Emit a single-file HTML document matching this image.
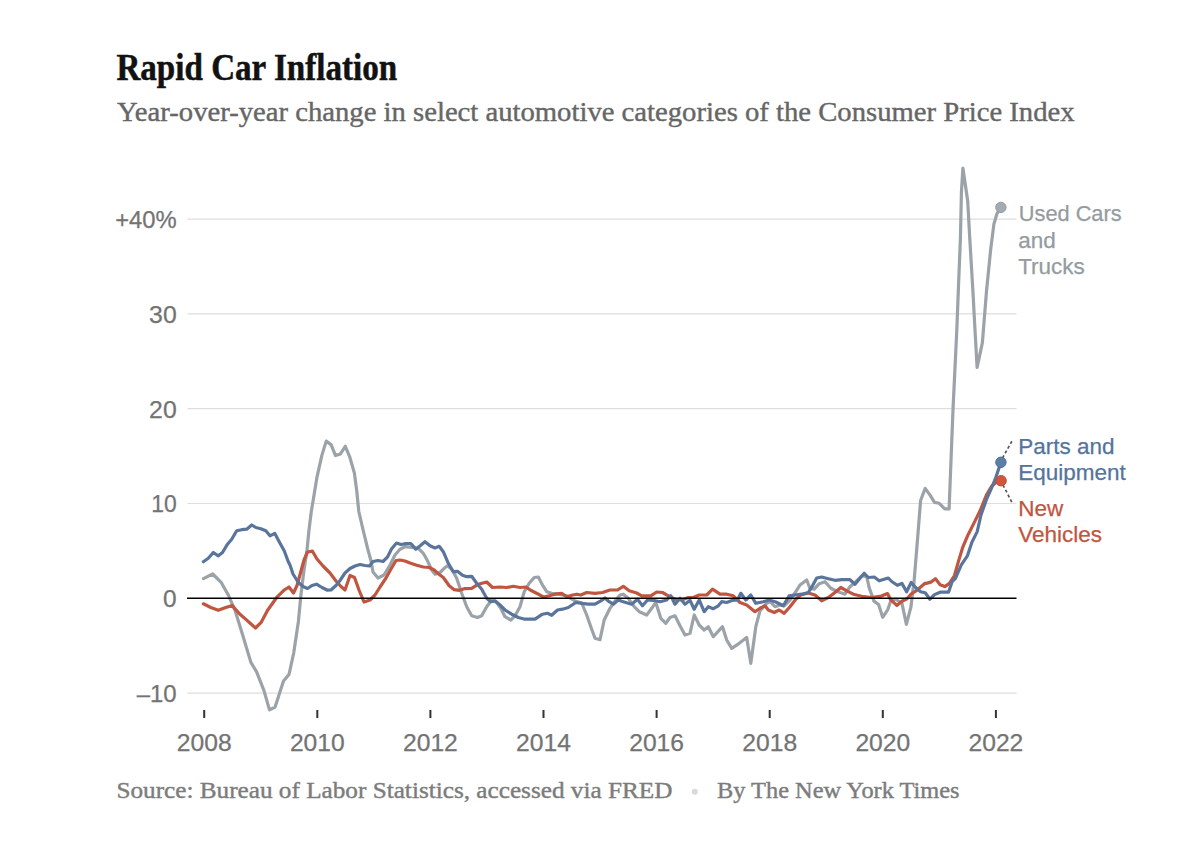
<!DOCTYPE html>
<html><head><meta charset="utf-8"><style>
html,body{margin:0;padding:0;background:#fff;}
body{width:1200px;height:859px;overflow:hidden;position:relative;}
svg{position:absolute;left:0;top:0;}
</style></head><body>
<svg width="1200" height="859" viewBox="0 0 1200 859">
<text x="116.4" y="80.3" font-family="'Liberation Serif', serif" font-weight="bold" font-size="37" fill="#121212" stroke="#121212" stroke-width="0.5" textLength="280.8" lengthAdjust="spacingAndGlyphs">Rapid Car Inflation</text>
<text x="117" y="120.8" font-family="'Liberation Serif', serif" font-size="27.5" fill="#666666" stroke="#666666" stroke-width="0.4" textLength="957.6" lengthAdjust="spacingAndGlyphs">Year-over-year change in select automotive categories of the Consumer Price Index</text>
<line x1="187.5" x2="1016.5" y1="219.1" y2="219.1" stroke="#dedede" stroke-width="1.2"/>
<line x1="187.5" x2="1016.5" y1="313.9" y2="313.9" stroke="#dedede" stroke-width="1.2"/>
<line x1="187.5" x2="1016.5" y1="408.7" y2="408.7" stroke="#dedede" stroke-width="1.2"/>
<line x1="187.5" x2="1016.5" y1="503.5" y2="503.5" stroke="#dedede" stroke-width="1.2"/>
<line x1="187.5" x2="1016.5" y1="693.1" y2="693.1" stroke="#dedede" stroke-width="1.2"/>

<g font-family="'Liberation Sans', sans-serif" font-size="23" fill="#737373" stroke="#737373" stroke-width="0.25">
<text x="176.7" y="228.0" text-anchor="end" textLength="61.5" lengthAdjust="spacingAndGlyphs">+40%</text>
<text x="176.7" y="322.8" text-anchor="end" textLength="27.6" lengthAdjust="spacingAndGlyphs">30</text>
<text x="176.7" y="417.6" text-anchor="end" textLength="27.6" lengthAdjust="spacingAndGlyphs">20</text>
<text x="176.7" y="512.4" text-anchor="end" textLength="25.5" lengthAdjust="spacingAndGlyphs">10</text>
<text x="176.7" y="607.2" text-anchor="end" textLength="13.6" lengthAdjust="spacingAndGlyphs">0</text>
<text x="176.7" y="702.0" text-anchor="end" textLength="40" lengthAdjust="spacingAndGlyphs">–10</text>

<text x="204.2" y="750.5" text-anchor="middle" textLength="54.8" lengthAdjust="spacingAndGlyphs">2008</text>
<text x="317.3" y="750.5" text-anchor="middle" textLength="54.8" lengthAdjust="spacingAndGlyphs">2010</text>
<text x="430.4" y="750.5" text-anchor="middle" textLength="54.8" lengthAdjust="spacingAndGlyphs">2012</text>
<text x="543.5" y="750.5" text-anchor="middle" textLength="54.8" lengthAdjust="spacingAndGlyphs">2014</text>
<text x="656.6" y="750.5" text-anchor="middle" textLength="54.8" lengthAdjust="spacingAndGlyphs">2016</text>
<text x="769.7" y="750.5" text-anchor="middle" textLength="54.8" lengthAdjust="spacingAndGlyphs">2018</text>
<text x="882.8" y="750.5" text-anchor="middle" textLength="54.8" lengthAdjust="spacingAndGlyphs">2020</text>
<text x="995.9" y="750.5" text-anchor="middle" textLength="54.8" lengthAdjust="spacingAndGlyphs">2022</text>

</g>
<rect x="203.2" y="710" width="2" height="8" fill="#333"/>
<rect x="316.3" y="710" width="2" height="8" fill="#333"/>
<rect x="429.4" y="710" width="2" height="8" fill="#333"/>
<rect x="542.5" y="710" width="2" height="8" fill="#333"/>
<rect x="655.6" y="710" width="2" height="8" fill="#333"/>
<rect x="768.7" y="710" width="2" height="8" fill="#333"/>
<rect x="881.8" y="710" width="2" height="8" fill="#333"/>
<rect x="994.9" y="710" width="2" height="8" fill="#333"/>

<g fill="none" stroke-width="3.2" stroke-linejoin="round" stroke-linecap="round">
<polyline points="203.4,578.6 212.7,574 221.1,582.3 228.5,595.4 235,610.3 242.5,634.5 250.9,662.4 256.5,671.7 263.9,690.4 269.5,709.9 275.1,707.1 283.5,681 289,674.5 293.7,653.1 298.4,621.5 301,594 304,570 307,550 309,530 311.3,511.5 314.2,494 317.1,476.6 321.8,455.6 326.2,441.1 331.1,444.6 335.5,455.6 340.4,453.9 345.3,446.3 349.7,456.8 354.4,473.1 356.7,490.5 358.8,511.5 363.1,530 367.5,548 371,561 373,572 378,578 384,575 390,565 395,555 400,549.2 405,546.7 411.7,547.5 418.3,548.3 423.3,553.3 427.5,560.8 431.7,570 435,574.2 440,572.5 444.2,568.3 447.5,565.8 451.7,569.2 456.7,578.3 461.7,593.3 466.7,606.7 471.7,615.8 477.5,617.5 481.7,615.8 486.7,606.7 491.7,600 496.7,602.5 500.8,608.3 505,616.7 510.8,620 515,615.8 520,606.7 524.2,591.7 529.2,583.3 534.2,577.5 538.3,577 542.5,585 546.7,591.7 551.7,593.3 558.3,594.2 566.7,595.8 575,601 581.7,603 586.7,615 590.8,626.7 595,638.3 600,639.7 604.2,620 610,608.3 615.8,600 620,595 623.3,594.2 628.3,598.3 634.2,606.7 639.2,611.7 646.7,615 651.7,608.3 655.8,602.5 660.8,618.3 665.8,623.3 670,617.5 675,615.8 680,625.8 685,635 690,633.3 694.2,615 699.2,625 704.2,630 708.3,626.7 713.3,636.7 722.5,626.7 726.7,640 731.7,648.3 739.2,643.3 746.7,637.5 750.8,663.3 755.8,626.7 760,610.8 766.7,603.3 770,601.7 775,606.7 780,605 784.2,605.8 790,600 795.8,591.7 800,585 806.7,580 810,588.3 814.2,589.2 819.2,583.7 825,581.7 830.8,588.3 836.7,591.3 845,594.2 850,586.7 855.8,581.7 861.7,575.8 866.7,576.7 869.3,588.1 874,601.1 878.6,604.5 882.7,617.3 887.8,609.6 890.4,601.9 895,599 901.9,603.2 906.4,624.3 910.9,607 912.8,591 914,582.5 917.8,535.9 920.6,500.5 925.2,488.4 929.9,494.9 934.5,502.4 939.2,503.3 944.8,508.9 949.1,508.9 953,409.6 956.8,330 958.3,291.1 960.4,238.8 961.4,192.7 962.9,168 965.6,186.4 967.7,201.1 969.8,238.8 972.9,291.1 975,330 977.1,367.3 982.4,342.6 986.5,291.1 990.7,249.2 993.9,224.1 997,213.6 1000.8,207.4" stroke="#9ba3a9"/>
<polyline points="203.4,603.8 210.8,607.5 218.3,610.3 225.7,607.5 232.2,605.6 239.7,614 246.2,619.6 255.5,628 261.1,622.4 267.6,610.3 276.9,597.2 284.4,589.8 289,587 293.5,593 297,585.5 301,571 304,560 307.5,552 312.5,551.2 317,559 323,566 330,573 336,581 341,586.5 345,590 350,575.5 354.5,577.5 359,590 364,602 370,600 375,595 380,587 386,578 391,569 396,560.5 400,560 405,561 410,563 416.7,565.3 423.3,567 429.2,567.5 434.2,570 438.3,573.7 443.3,577.5 449.2,585.8 454.2,589.7 459.2,590.3 464.2,588.7 471.7,588.3 478.3,584.2 486.7,582 492.5,587.5 500,587 506.7,587.5 513.3,586.3 520,587.5 525.8,587 531.7,590.8 537.5,593.7 543.3,597 549.2,595.8 555,594.2 561.7,593.3 566.7,596.7 571.7,595.3 576.7,594.2 580.8,595 586.7,592.5 595,593.3 602.5,592.5 610,590 617.5,590 623.3,586.3 629.2,590.8 636.7,593 641.7,595.8 650.8,595.8 656.7,592 662.5,592.5 668.3,595.8 675,599.2 681.7,600 688.3,597.5 693.3,597.5 699.2,595 706.7,595 712.5,589.2 720,594.2 726.7,594.2 733.3,595.8 740,602.5 746.7,605 755,611.7 760,608.3 765,605.8 768.3,610 774.2,612.5 779.2,610 784.2,613.3 790,606.7 795.8,599.2 800.8,595 808.3,593 815,595 821.7,600.8 828.3,597.5 835,592.5 840.8,587.5 846.7,590.8 853.3,594.2 861.7,596.3 871.7,597.5 881.4,596.1 887.5,593.6 890.4,599.3 896.8,605.4 901.9,601.2 907,598.7 910.9,594.2 916,591 919.8,587.8 925,583.3 926.1,583.4 930.8,582.1 935.5,578.8 940.1,584.7 944.8,586.6 949.4,583.4 954.5,575.5 958.3,561.9 962.9,546.8 968.1,534.7 974.2,522.6 980.2,510.5 986.3,495.4 991.6,486.3 996.9,481.8 1001.4,480.2" stroke="#c05540"/>
<polyline points="203.3,561.7 208.3,558.3 213.3,552.5 218.3,555.8 222.5,552.5 227.5,544.2 231.7,539.2 236.7,530.8 241.7,529.7 246.7,529.2 251.7,525 255.8,527.5 260.8,528.7 265.8,530.8 270,535.8 274.7,533.3 279.2,541.7 284.2,550.8 288.3,561.7 290,565 293,574 298,582 303,586.5 307.5,588.5 312,585.5 316.5,584.2 322,587.5 327.5,590.2 331,590 336,585.5 340,580.5 345,573 350,568.5 355,566 360,564.5 365,565.5 369.5,566 373,561.5 378,560.5 383,561.5 387.5,557 391.5,549 396.5,543 401,544.5 405.8,543.7 410.8,543.7 415.8,549.2 420.8,545.3 425,541.7 430,545.8 435,548 439.2,546.3 443.3,551.7 448.3,563.3 453.3,571.7 457.5,571.3 462.5,575.3 466.7,576.7 471.7,576.3 476.7,583.3 481.7,589.2 486.7,598.3 490.8,601.7 495,600.8 500,605 505,610 511.7,614.2 518.3,617.5 525,619.2 535,619.2 542.5,614.2 547.5,613.3 551.7,615.3 557.5,610 562.5,609.2 568.3,607.5 575.8,602.5 581.7,603.3 588.3,604.2 595,604.2 600.8,600.8 605,598 609.2,601.7 613.3,604.2 618.3,600 623.3,601.7 631.7,604.2 637.5,599.2 642.5,605.8 647.5,600 653.3,600.3 660,601.7 666.7,600 670.8,595.8 675,604.2 680,598.3 685,604.2 690,600.3 694.2,609.2 699.2,600 704.2,611.7 708.3,606.7 713.3,608.7 718.3,605.8 721.7,601.7 726.7,602.5 732.5,600.3 737.5,600 740.8,593.3 745.8,600 750.8,595 755.8,603.3 763.3,601.7 769.2,600 775.8,602 783.3,605.8 789.2,595.8 795,595 801.7,594.2 808.3,592.5 812.5,585.8 816.7,578 821.7,577 828.3,578.7 835,580.3 841.7,579.7 850,579.7 855,584.2 859.2,579.2 864.2,573.3 868.3,577.5 874.2,577 879.2,580.8 888.3,578 891.7,581.5 897.3,585.3 901.9,583.4 906.6,591.8 911.2,582.5 915.9,587.7 920.6,591.8 925.2,592.7 929.9,599.2 934.5,594.6 940.1,592.2 948.5,592.2 952.2,581.5 955.3,578.5 961.3,564.9 967.4,555.8 971.9,542.2 977.2,531.6 981,515 986.3,499.9 991.6,487.8 995.4,478.7 998.4,469.7 1001.1,462.1" stroke="#5a759b"/>
</g>
<line x1="187" x2="1016.5" y1="598.2" y2="598.2" stroke="#000" stroke-width="1.4"/>

<line x1="1002.5" y1="458" x2="1012.3" y2="440.5" stroke="#555a60" stroke-width="1.7" stroke-dasharray="3,2.4"/>
<line x1="1003" y1="485" x2="1012" y2="502.5" stroke="#5e5450" stroke-width="1.7" stroke-dasharray="3,2.4"/>
<circle cx="1000.9" cy="207.4" r="5.2" fill="#a2abb0" stroke="#959da2" stroke-width="1"/>
<circle cx="1000.9" cy="462.3" r="5.2" fill="#5b7fa9" stroke="#4d6c93" stroke-width="1"/>
<circle cx="1001.1" cy="480.7" r="5.2" fill="#d2563a" stroke="#b94c34" stroke-width="1"/>
<g font-family="'Liberation Sans', sans-serif" font-size="22.5" stroke-width="0.25">
<text x="1018.8" y="220.8" fill="#939ba1" stroke="#939ba1" textLength="102.8" lengthAdjust="spacingAndGlyphs">Used Cars</text>
<text x="1018.2" y="247.5" fill="#939ba1" stroke="#939ba1">and</text>
<text x="1018.2" y="273.8" fill="#939ba1" stroke="#939ba1">Trucks</text>
<text x="1018.2" y="453.8" fill="#53749c" stroke="#53749c">Parts and</text>
<text x="1018.2" y="480.3" fill="#53749c" stroke="#53749c" textLength="107.6" lengthAdjust="spacingAndGlyphs">Equipment</text>
<text x="1018.2" y="515.8" fill="#c05540" stroke="#c05540">New</text>
<text x="1018.2" y="541.8" fill="#c05540" stroke="#c05540">Vehicles</text>
</g>
<g font-family="'Liberation Serif', serif" font-size="23" fill="#7c7c7c" stroke="#7c7c7c" stroke-width="0.4">
<text x="116.4" y="798" textLength="556" lengthAdjust="spacingAndGlyphs">Source: Bureau of Labor Statistics, accessed via FRED</text>
<circle cx="694.8" cy="791.8" r="3" fill="#dadada" stroke="none"/>
<text x="717" y="798" textLength="242.6" lengthAdjust="spacingAndGlyphs">By The New York Times</text>
</g>
</svg>
</body></html>
